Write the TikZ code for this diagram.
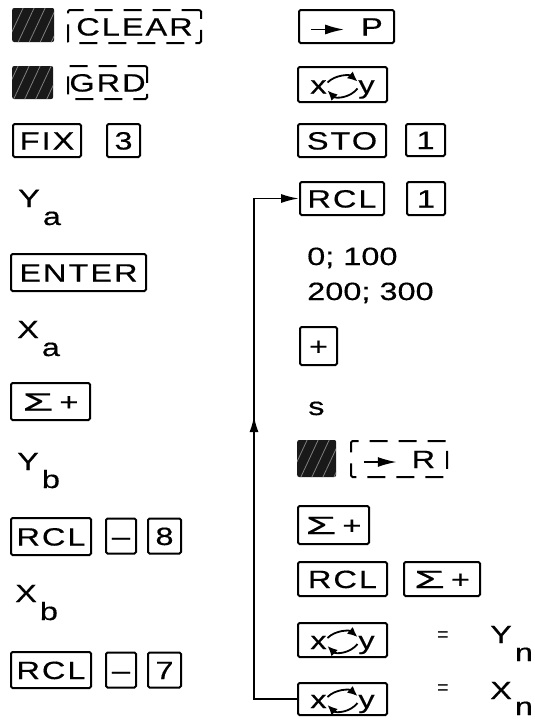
\documentclass[tikz,border=0pt]{standalone}
\usepackage{fontspec}
\setmainfont{Liberation Sans}
\newfontfamily\keyfont{Liberation Sans}[FakeStretch=1.3,LetterSpace=8,FakeBold=0.4]
\newfontfamily\txtfont{Liberation Sans}[FakeStretch=1.3,FakeBold=0.4]
\newfontfamily\sigfont{Liberation Sans}[FakeStretch=2.0,FakeBold=0.4]
\usetikzlibrary{arrows.meta, patterns.meta}

\newcommand{\swapxy}{x\tikz[baseline=0pt,x=1pt,y=1pt]{
  \draw[solid,sharp corners,line width=1.8pt,-{Latex[length=10pt,width=9pt]}] (0,11) .. controls (8,19) and (22,19) .. (30,12);
  \draw[solid,sharp corners,line width=1.8pt,-{Latex[length=10pt,width=9pt]}] (30,5) .. controls (22,-5) and (8,-5) .. (0,3);}y}
\newcommand{\goto}{\tikz[baseline=0pt,x=1pt,y=1pt]{
  \draw[solid,line width=1.8pt,-{Latex[length=19pt,width=10pt]}] (0,6) -- (33,6);}}
\newcommand{\sumkey}{{\sigfont Σ}\hspace{6pt}+}
\newcommand{\lowsub}[1]{\hspace{3pt}\raisebox{-18pt}{#1}}

\tikzset{
  keybox/.style={draw, line width=2pt, rounded corners=1.5pt, anchor=west,
    minimum height=34pt, inner sep=0pt, text height=18pt, text depth=0pt,
    font=\keyfont\fontsize{25}{27}\selectfont},
  softkey/.style={keybox, dash pattern=on 18pt off 11pt},
  shiftkey/.style={fill=black!90, rounded corners=2pt, anchor=west, minimum height=34pt,
    inner sep=0pt, postaction={pattern={Lines[angle=65,distance=10pt,line width=0.8pt]},
    pattern color=white!50!black}},
  txt/.style={anchor=base west, inner sep=0pt, font=\txtfont\fontsize{25}{27}\selectfont},
  eqsign/.style={inner sep=0pt, font=\fontsize{20}{22}\selectfont},
  backline/.style={line width=1.8pt},
}

\begin{document}
\begin{tikzpicture}[x=1pt,y=-1pt]
\useasboundingbox (0,0) rectangle (535,720);
% left column
\node[shiftkey, minimum width=42pt] (shiftA) at (12,25) {};
\node[softkey, minimum width=133pt, minimum height=33pt] (clear) at (67,26.5) {CLEAR};
\node[shiftkey, minimum width=41pt, minimum height=33pt] (shiftB) at (12,82.5) {};
\node[softkey, minimum width=79pt, minimum height=33pt] (grd) at (67,82.5) {GRD};
\node[keybox, minimum width=68pt, minimum height=33pt] (fix) at (12,140.5) {FIX};
\node[keybox, minimum width=33pt, minimum height=33pt] (three) at (106,140.5) {3};
\node[txt] (ya) at (18,207) {Y\lowsub{a}};
\node[keybox, minimum width=135pt, minimum height=37pt] (enter) at (10,272.5) {ENTER};
\node[txt] (xa) at (17,338) {X\lowsub{a}};
\node[keybox, minimum width=79pt, minimum height=37pt] (sumA) at (10,401.5) {\sumkey};
\node[txt] (yb) at (17,470) {Y\lowsub{b}};
\node[keybox, minimum width=80pt, minimum height=37pt] (rclA) at (10,536.5) {RCL};
\node[keybox, minimum width=30pt, minimum height=35pt] (minusA) at (105,536) {–};
\node[keybox, minimum width=33pt, minimum height=35pt] (eight) at (147,536) {8};
\node[txt] (xb) at (15,602) {X\lowsub{b}};
\node[keybox, minimum width=80pt, minimum height=36pt] (rclB) at (10,670) {RCL};
\node[keybox, minimum width=30pt, minimum height=35pt] (minusB) at (105,670) {–};
\node[keybox, minimum width=33pt, minimum height=35pt] (seven) at (147,670) {7};
% right column
\node[keybox, minimum width=95pt, minimum height=33pt] (toP) at (298,26.5) {\goto\hspace{16pt}P};
\node[keybox, minimum width=89pt, minimum height=35pt] (swapA) at (297,84.5) {\swapxy};
\node[keybox, minimum width=88pt, minimum height=33pt] (sto) at (297,140.5) {STO};
\node[keybox, minimum width=39pt, minimum height=32pt] (oneA) at (405,140) {1};
\node[keybox, minimum width=84pt, minimum height=33pt] (rclC) at (299,198.5) {RCL};
\node[keybox, minimum width=38pt, minimum height=33pt] (oneB) at (406,198.5) {1};
\node[txt] (lowpair) at (307,265) {0; 100};
\node[txt] (highpair) at (307,300) {200; 300};
\node[keybox, minimum width=37pt, minimum height=38pt] (plus) at (299,346) {+};
\node[txt] (s) at (308,415) {s};
\node[shiftkey, minimum width=39pt, minimum height=37pt] (shiftC) at (297,458.5) {};
\node[softkey, minimum width=96pt, minimum height=36pt] (toR) at (350,459) {\goto\hspace{14pt}R};
\node[keybox, minimum width=71pt, minimum height=38pt] (sumB) at (297,525) {\sumkey};
\node[keybox, minimum width=89pt, minimum height=34pt] (rclD) at (297,579) {RCL};
\node[keybox, minimum width=76pt, minimum height=34pt] (sumC) at (403,579) {\sumkey};
\node[keybox, minimum width=89pt, minimum height=34pt] (swapB) at (297,640) {\swapxy};
\node[eqsign] (eqY) at (443,637) {=};
\node[txt] (yn) at (490,643) {Y\lowsub{n}};
\node[keybox, minimum width=89pt, minimum height=32pt] (swapC) at (297,699) {\swapxy};
\node[eqsign] (eqX) at (443,690) {=};
\node[txt] (xn) at (490,699) {X\hspace{3pt}\raisebox{-16pt}{n}};
% loop back
\coordinate (bendA) at (254,699);
\coordinate (bendB) at (254,198.5);
\coordinate (upA) at (254,416);
\draw[backline, -{Latex[length=18pt,width=9pt]}] (swapC.west) -- (bendA) -- (bendB) -- (rclC.west);
\draw[backline, -{Latex[length=16pt,width=9pt]}] (bendA) -- (upA);
\end{tikzpicture}
\end{document}
